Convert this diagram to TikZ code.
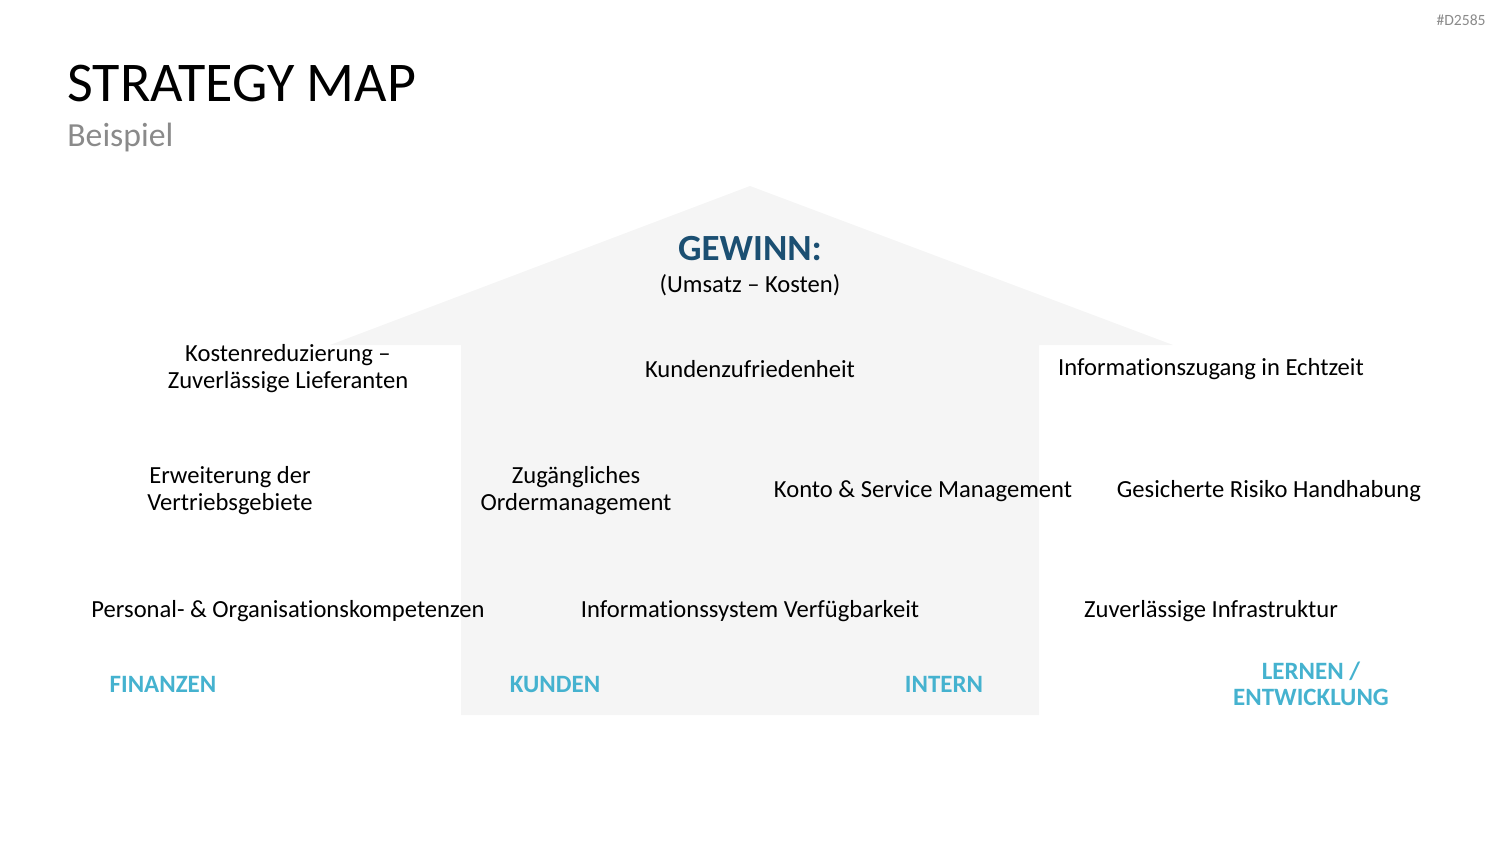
\documentclass[tikz,border=0pt]{standalone}
\usepackage{fontspec}
\setmainfont{Carlito}[Ligatures=NoCommon]
\usepackage{xcolor}
\usetikzlibrary{positioning}

\definecolor{housegray}{HTML}{F5F5F5}
\definecolor{gewinnblue}{HTML}{1B4F72}
\definecolor{perspcyan}{HTML}{45B2CF}
\definecolor{subgray}{HTML}{8A8A8A}

\begin{document}
\begin{tikzpicture}[x=0.02cm,y=-0.02cm,
   obj/.style={align=center,inner sep=0pt,yshift=-1.1pt,font=\fontsize{14}{15.4}\selectfont},
   persp/.style={align=center,inner sep=0pt,text=perspcyan,
     font=\fontsize{14.2}{15}\selectfont\bfseries}]
  \useasboundingbox (0,0) rectangle (1500,844);
  % house
  \fill[housegray] (461,715) -- (461,345) -- (330,345) -- (750,186)
    -- (1173,345) -- (1039,345) -- (1039,715) -- cycle;
  % header
  \node[anchor=base west,inner sep=0pt,font=\fontsize{31.9}{34}\selectfont] (title) at (67,102) {STRATEGY MAP};
  \node[anchor=base west,inner sep=0pt,text=subgray,font=\fontsize{19.2}{21}\selectfont] (sub) at (67,147) {Beispiel};
  \node[anchor=east,inner sep=0pt,text=subgray,font=\fontsize{8.9}{9}\selectfont] (code) at (1486,20) {\#D2585};
  % roof
  \node[inner sep=0pt,text=gewinnblue,font=\fontsize{21}{23}\selectfont\bfseries] (gewinn) at (750,249) {GEWINN:};
  \node[obj] (formel) at (750,283) {(Umsatz – Kosten)};
  % objectives
  \node[obj] (kosten) at (288,367) {Kostenreduzierung –\\Zuverlässige Lieferanten};
  \node[obj] (zufried) at (750,367) {Kundenzufriedenheit};
  \node[obj] (info) at (1211,367) {Informationszugang in Echtzeit};
  \node[obj] (vertrieb) at (230,489) {Erweiterung der\\Vertriebsgebiete};
  \node[obj] (order) at (576,489) {Zugängliches\\Ordermanagement};
  \node[obj] (konto) at (923,489) {Konto \& Service Management};
  \node[obj] (risiko) at (1269,489) {Gesicherte Risiko Handhabung};
  \node[obj] (personal) at (288,609) {Personal- \& Organisationskompetenzen};
  \node[obj] (system) at (750,609) {Informationssystem Verfügbarkeit};
  \node[obj] (infra) at (1211,609) {Zuverlässige Infrastruktur};
  % perspectives
  \node[persp] (finanzen) at (163,684) {FINANZEN};
  \node[persp] (kunden) at (555,684) {KUNDEN};
  \node[persp] (intern) at (944,684) {INTERN};
  \node[persp] (lernen) at (1311,684) {LERNEN /\\ENTWICKLUNG};
\end{tikzpicture}
\end{document}
